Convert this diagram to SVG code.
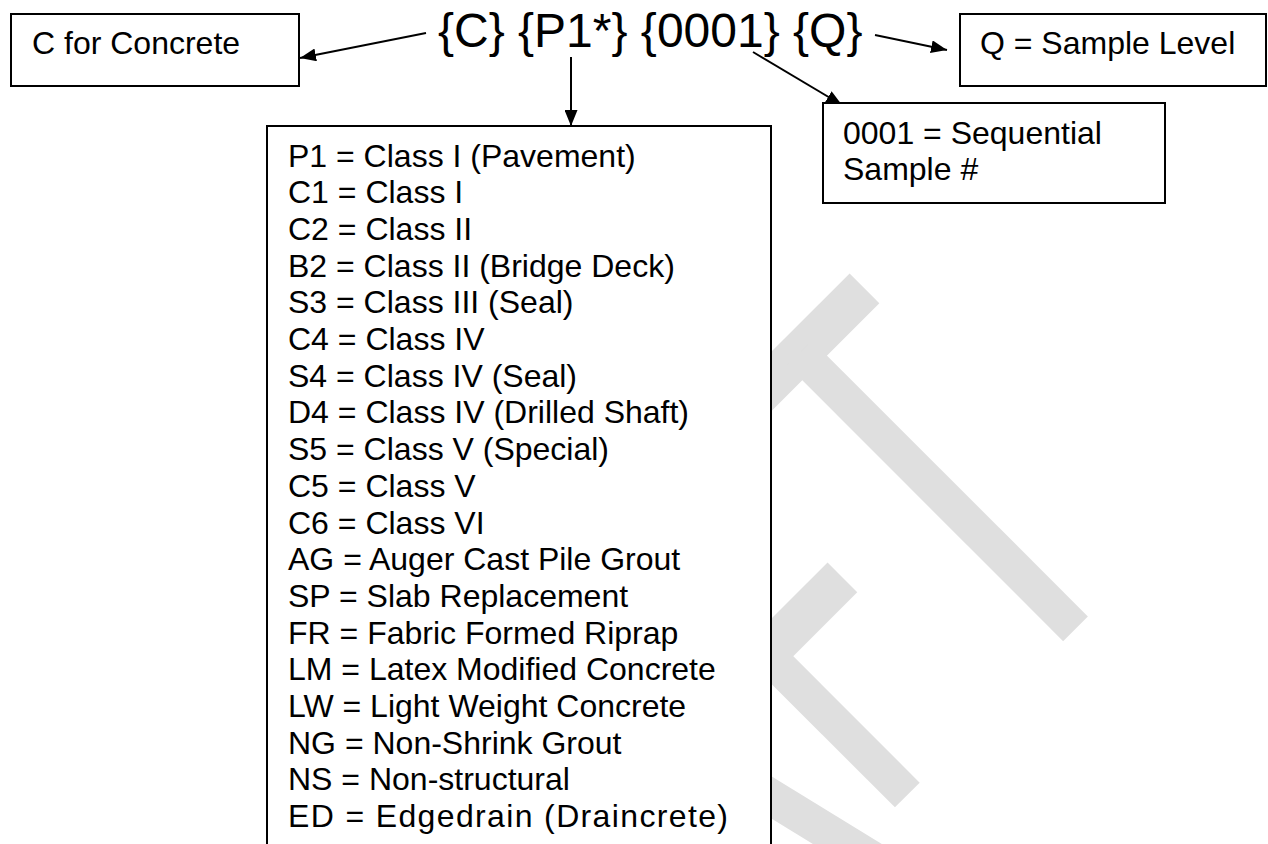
<svg xmlns="http://www.w3.org/2000/svg" width="1268" height="844" viewBox="0 0 1268 844">
<style>
.box{fill:#ffffff;stroke:#000000;stroke-width:2}
.t{font-family:"Liberation Sans",Arial,sans-serif;font-size:32px;fill:#000000}
.title{font-family:"Liberation Sans",Arial,sans-serif;font-size:48px;fill:#000000}
.wm{stroke:#dfdfdf;fill:none}
.c{stroke:#000000;stroke-width:2;fill:none;marker-end:url(#ah)}
</style>
<defs>
<marker id="ah" markerUnits="userSpaceOnUse" markerWidth="16" markerHeight="13" refX="16" refY="6.5" orient="auto">
<path d="M0,0 L16,6.5 L0,13 z" fill="#000000"/>
</marker>
</defs>
<rect width="1268" height="844" fill="#ffffff"/>
<g id="watermark">
<line class="wm" x1="864.5" y1="288.3" x2="740" y2="412.8" stroke-width="42"/>
<line class="wm" x1="799.7" y1="353" x2="1075.5" y2="628.8" stroke-width="35"/>
<line class="wm" x1="842.4" y1="577.4" x2="720" y2="699.8" stroke-width="42"/>
<line class="wm" x1="766" y1="653.7" x2="907.3" y2="795" stroke-width="35"/>
<line class="wm" x1="720" y1="766" x2="880" y2="864" stroke-width="36"/>
</g>
<g id="connectors">
<line class="c" x1="426" y1="33" x2="300" y2="58"/>
<line class="c" x1="571" y1="57" x2="571" y2="126"/>
<line class="c" x1="753" y1="52" x2="842" y2="105"/>
<line class="c" x1="875" y1="35" x2="947" y2="50"/>
</g>
<g id="title">
<text class="title" x="438" y="47">{C} {P1*} {0001} {Q}</text>
</g>
<g id="node-concrete">
<rect class="box" x="11" y="14" width="288" height="72"/>
<text class="t" x="32" y="54">C for Concrete</text>
</g>
<g id="node-sample-level">
<rect class="box" x="960" y="14" width="306" height="72"/>
<text class="t" x="980" y="54">Q = Sample Level</text>
</g>
<g id="node-sequential">
<rect class="box" x="823" y="103" width="342" height="100"/>
<text class="t" x="843" y="143.5">0001 = Sequential</text>
<text class="t" x="843" y="180.2">Sample #</text>
</g>
<g id="node-classes">
<rect class="box" x="267" y="126" width="504" height="760"/>
<text class="t" x="288" y="166.7">P1 = Class I (Pavement)</text>
<text class="t" x="288" y="203.4">C1 = Class I</text>
<text class="t" x="288" y="240.1">C2 = Class II</text>
<text class="t" x="288" y="276.7">B2 = Class II (Bridge Deck)</text>
<text class="t" x="288" y="313.4">S3 = Class III (Seal)</text>
<text class="t" x="288" y="350.1">C4 = Class IV</text>
<text class="t" x="288" y="386.8">S4 = Class IV (Seal)</text>
<text class="t" x="288" y="423.4">D4 = Class IV (Drilled Shaft)</text>
<text class="t" x="288" y="460.1">S5 = Class V (Special)</text>
<text class="t" x="288" y="496.8">C5 = Class V</text>
<text class="t" x="288" y="533.5">C6 = Class VI</text>
<text class="t" x="288" y="570.1">AG = Auger Cast Pile Grout</text>
<text class="t" x="288" y="606.8">SP = Slab Replacement</text>
<text class="t" x="288" y="643.5">FR = Fabric Formed Riprap</text>
<text class="t" x="288" y="680.2">LM = Latex Modified Concrete</text>
<text class="t" x="288" y="716.8">LW = Light Weight Concrete</text>
<text class="t" x="288" y="753.5">NG = Non-Shrink Grout</text>
<text class="t" x="288" y="790.2">NS = Non-structural</text>
<text class="t" x="288" y="826.9" textLength="440" lengthAdjust="spacing">ED = Edgedrain (Draincrete)</text>
</g>
</svg>
